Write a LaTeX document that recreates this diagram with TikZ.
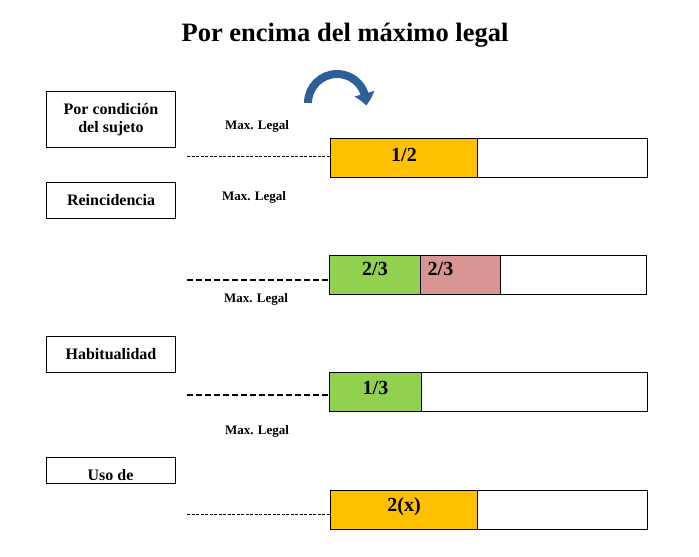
\documentclass[tikz,border=0pt]{standalone}
\usepackage{fontspec}
\setmainfont{Liberation Serif}
\usetikzlibrary{arrows.meta,bending}
\definecolor{orng}{HTML}{FFC000}
\definecolor{grn}{HTML}{92D050}
\definecolor{pnk}{HTML}{D99594}
\definecolor{arrc}{HTML}{2F5F98}
\begin{document}
\begin{tikzpicture}[x=1pt,y=-1pt,
  lbox/.style={draw, line width=1pt, minimum width=129pt, anchor=north west, inner sep=0pt, align=center, font=\bfseries\fontsize{16}{18}\selectfont},
  barbox/.style={draw, line width=1pt, anchor=north west, minimum height=39pt, inner sep=0pt},
  barlab/.style={font=\bfseries\fontsize{20}{22}\selectfont},
  maxl/.style={font=\bfseries\fontsize{13}{15}\selectfont},
  thindash/.style={dash pattern=on 3pt off 1.5pt, line width=0.9pt},
  thickdash/.style={dash pattern=on 6pt off 3pt, line width=1.8pt}]
\useasboundingbox (0,0) rectangle (699,557);
\fill[white] (0,0) rectangle (699,557);

% title
\node[font=\bfseries\fontsize{26.5}{30}\selectfont] (title) at (345,35) {Por encima del máximo legal};

% left boxes
\node[lbox, minimum height=56pt] (b1) at (46,91) {Por condición\\del sujeto};
\node[lbox, minimum height=36pt] (b2) at (46,182) {Reincidencia};
\node[lbox, minimum height=36pt] (b3) at (46,336) {Habitualidad};
\node[lbox, minimum height=26pt] (b4) at (46,457) {};
\begin{scope}
  \clip (b4.north west) rectangle ([yshift=4pt]b4.south east);
  \node[font=\bfseries\fontsize{16}{18}\selectfont, anchor=base] (b4t) at (110.5,480) {Uso de};
\end{scope}

% Max. Legal labels
\node[maxl] (m1) at (257,126) {Max. Legal};
\node[maxl] (m2) at (254,197) {Max. Legal};
\node[maxl] (m3) at (256,299) {Max. Legal};
\node[maxl] (m4) at (257,431) {Max. Legal};

% bars
\node[barbox, minimum width=317pt] (bar1) at (330,138) {};
\node[barbox, minimum width=147pt, fill=orng] (s1) at (330,138) {};
\node[barlab] (l1) at ([yshift=3pt]s1.center) {1/2};

\node[barbox, minimum width=317pt] (bar2) at (329,255) {};
\node[barbox, minimum width=91pt, fill=grn] (s2a) at (329,255) {};
\node[barbox, minimum width=80pt, fill=pnk] (s2b) at (420,255) {};
\node[barlab] (l2a) at ([yshift=6pt]s2a.center) {2/3};
\node[barlab] (l2b) at ([yshift=6pt,xshift=-20pt]s2b.center) {2/3};

\node[barbox, minimum width=318pt] (bar3) at (329,372) {};
\node[barbox, minimum width=92pt, fill=grn] (s3) at (329,372) {};
\node[barlab] (l3) at ([yshift=4.5pt]s3.center) {1/3};

\node[barbox, minimum width=317pt] (bar4) at (330,490) {};
\node[barbox, minimum width=147pt, fill=orng] (s4) at (330,490) {};
\node[barlab] (l4) at ([yshift=3pt]s4.center) {2(x)};

% dashed leaders
\coordinate (d1) at (187,156);
\coordinate (d2) at (187,280);
\coordinate (d3) at (187,395);
\coordinate (d4) at (187,514);
\draw[thindash] (d1) -- (d1 -| bar1.west);
\draw[thickdash] (d2) -- (d2 -| bar2.west);
\draw[thickdash] (d3) -- (d3 -| bar3.west);
\draw[thindash] (d4) -- (d4 -| bar4.west);

% curved arrow
\coordinate (ac) at (337,103);
\draw[arrc, line width=8pt, -{Triangle[width=20pt,length=12pt,bend]}]
  ([xshift=-29pt]ac) arc[start angle=180, end angle=-5, radius=29pt];
\end{tikzpicture}
\end{document}
